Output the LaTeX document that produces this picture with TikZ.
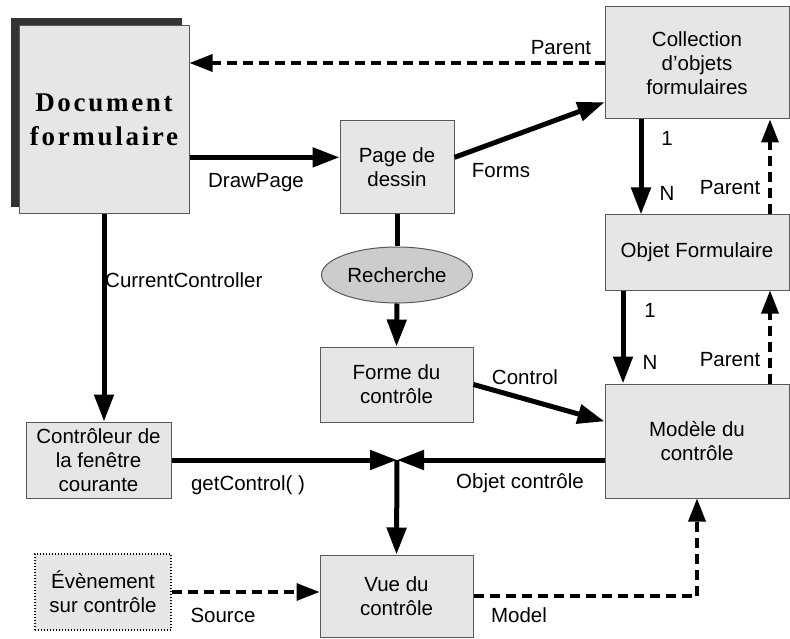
\documentclass[tikz,border=0pt]{standalone}
\usepackage{fontspec}
\setmainfont{Liberation Sans}
\newfontfamily\docfont[LetterSpace=10]{Liberation Serif}
\usetikzlibrary{arrows.meta, positioning, calc, shapes.geometric}
\definecolor{boxgray}{HTML}{E6E6E6}
\definecolor{ovalgray}{HTML}{CCCCCC}
\definecolor{shadowgray}{HTML}{333333}

\begin{document}
\begin{tikzpicture}[x=1pt, y=-1pt,
    box/.style={draw=black!65, line width=1pt, fill=boxgray, inner sep=0pt,
                align=center, font=\fontsize{20.5}{24}\selectfont},
    arr/.style={-{Triangle[length=27pt,width=19pt]}, line width=5pt},
    darr/.style={-{Triangle[length=23pt,width=17pt]}, line width=3.5pt,
                 dash pattern=on 10pt off 6pt},
    lbl/.style={font=\fontsize{20.5}{24}\selectfont, inner sep=0pt}
  ]
    \useasboundingbox (0,0) rectangle (790,639);
    % shadow of the main document
    \fill[shadowgray] (11,18) rectangle (182,207);
    \node[box, minimum width=170pt, minimum height=188pt,
          font=\docfont\bfseries\fontsize{27}{34}\selectfont] (doc) at (104,120)
      {Document\\formulaire};
    \node[box, minimum width=114pt, minimum height=93pt] (page) at (397,167.5) {Page de\\dessin};
    \node[box, minimum width=184pt, minimum height=112pt] (coll) at (697,63)
      {Collection\\d’objets\\formulaires};
    \node[box, minimum width=184pt, minimum height=75pt] (obj) at (697,252.5) {Objet Formulaire};
    \node[box, minimum width=184pt, minimum height=114pt] (model) at (697,441) {Modèle du\\contrôle};
    \node[ellipse, draw=black!65, line width=1pt, fill=ovalgray, minimum width=151pt,
          minimum height=56pt, inner sep=0pt, font=\fontsize{20.5}{24}\selectfont] (search) at (397,275) {Recherche};
    \node[box, minimum width=153pt, minimum height=75pt] (forme) at (396.5,384.5) {Forme du\\contrôle};
    \node[box, minimum width=145pt, minimum height=76pt] (ctrl) at (98.5,460)
      {Contrôleur de\\la fenêtre\\courante};
    \node[box, draw=black, dotted, line width=1.5pt, minimum width=136pt, minimum height=76pt] (event) at (103,592)
      {Évènement\\sur contrôle};
    \node[box, minimum width=153pt, minimum height=82pt] (vue) at (396.5,596) {Vue du\\contrôle};
    \coordinate (junc) at (397,460);

    % connectors
    \draw[darr] (coll.west) -- (coll.west -| doc.east);
    \draw[arr] (doc.east |- page.170) -- (page.170);
    \draw[arr] (page.10) -- (coll.203);
    \draw[arr] ([xshift=-56pt]coll.south) -- ([xshift=-56pt]obj.north);
    \draw[darr] ([xshift=73pt]obj.north) -- ([xshift=73pt]coll.south);
    \draw[arr] ([xshift=-74pt]obj.south) -- ([xshift=-74pt]model.north);
    \draw[darr] ([xshift=73pt]model.north) -- ([xshift=73pt]obj.south);
    \draw[line width=5pt] (page.south) -- (search.north);
    \draw[arr] (search.south) -- (forme.north);
    \draw[arr] (forme.east) -- (model.168);
    \draw[arr] (doc.south) -- (doc.south |- ctrl.north);
    \draw[arr] (ctrl.east) -- (junc);
    \draw[arr] (model.west |- junc) -- (junc);
    \draw[arr] (junc) -- (vue.north);
    \draw[darr] (event.east) -- (event.east -| vue.west);
    \draw[darr] (vue.east) -- (vue.east -| model.south) -- (model.south);

    % labels
    \node[lbl] (lparent) at (561,48) {Parent};
    \node[lbl] (ldraw) at (256,183) {DrawPage};
    \node[lbl] (lforms) at (501,171) {Forms};
    \node[lbl, anchor=west] (lcurrent) at (105,280) {CurrentController};
    \node[lbl] (lone) at (667,138) {1};
    \node[lbl] (lmany) at (667,193) {N};
    \node[lbl] (lparenta) at (730,188) {Parent};
    \node[lbl] (lonea) at (650,310) {1};
    \node[lbl] (lmanya) at (650,362) {N};
    \node[lbl] (lparentb) at (730,360) {Parent};
    \node[lbl] (lcontrol) at (525,377) {Control};
    \node[lbl] (lobjet) at (520,483) {Objet contrôle};
    \node[lbl] (lget) at (248,485) {getControl( )};
    \node[lbl] (lsource) at (223,615) {Source};
    \node[lbl] (lmodel) at (519,615) {Model};
  \end{tikzpicture}
\end{document}
